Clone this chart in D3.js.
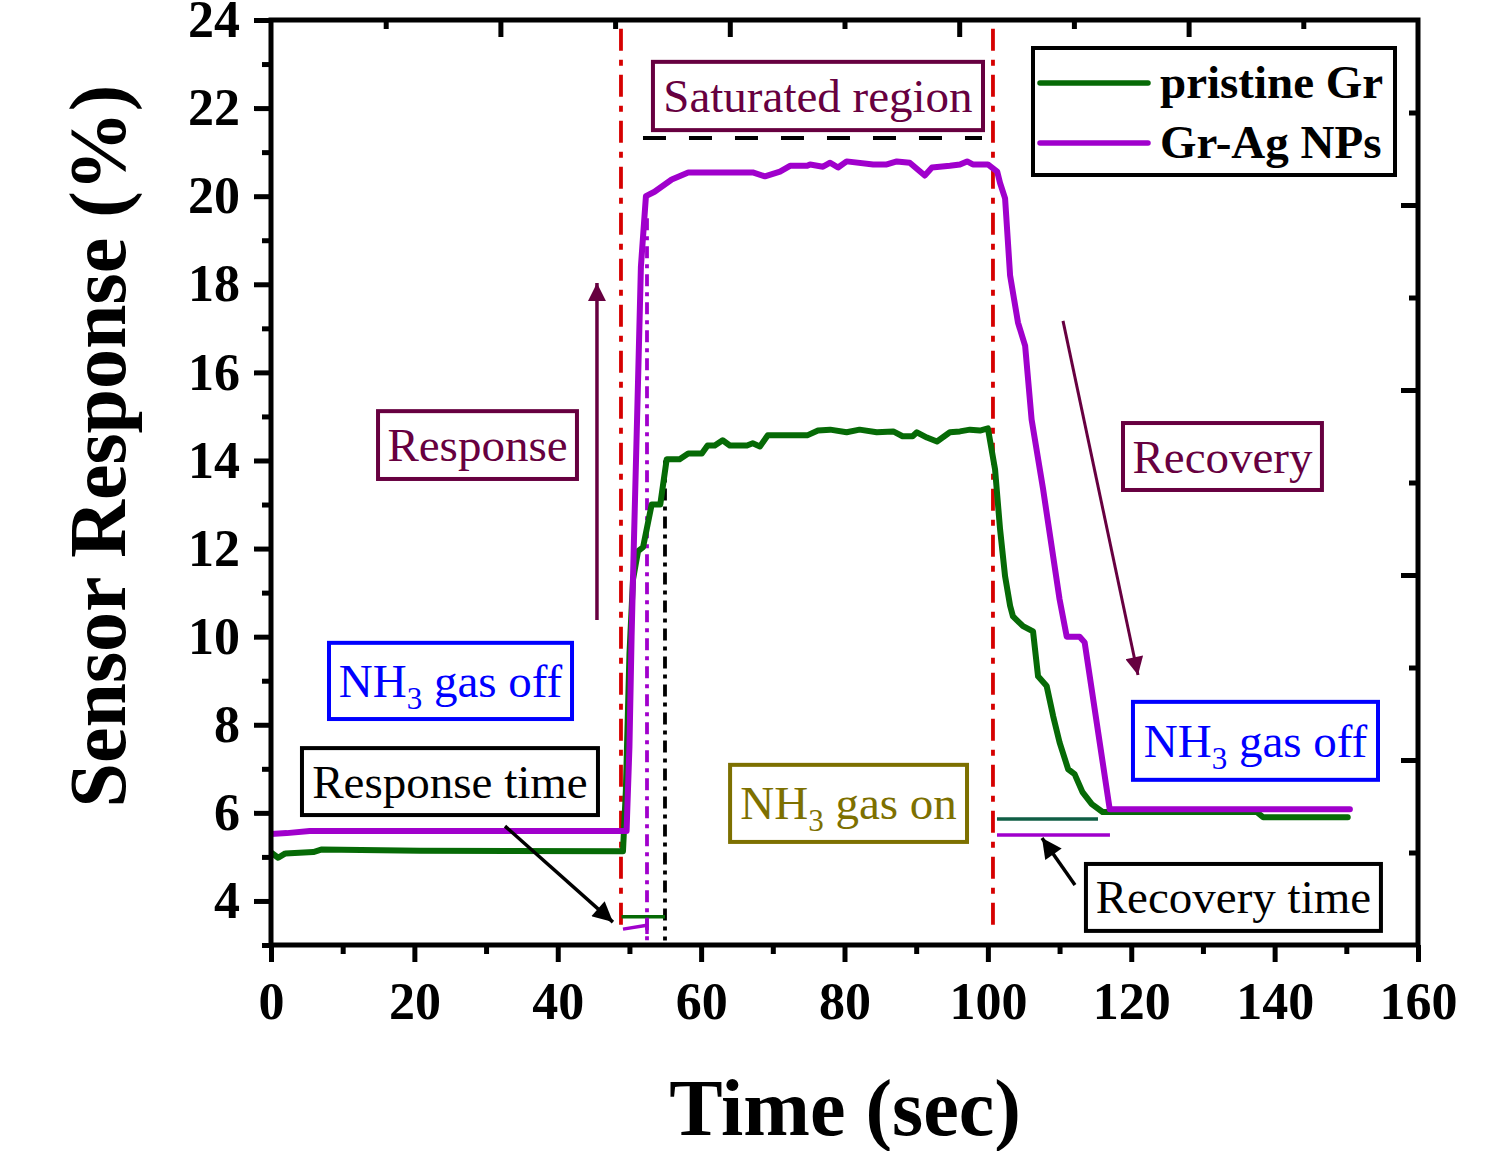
<!DOCTYPE html>
<html>
<head>
<meta charset="utf-8">
<script src="https://cdn.jsdelivr.net/npm/d3@7"></script>
<style>
  body { margin: 0; background: #fff; }
  text { font-family: "Liberation Serif", "Times New Roman", serif; }
</style>
</head>
<body>
<script>
// data (time in sec, response in %)
var grTime = [0, 1.0, 2.0, 5.9, 7.1, 20.8, 49.1, 49.5, 50.0, 50.5, 51.2, 51.9, 53.1, 54.3, 55.2, 57.0,
  58.2, 60.1, 60.9, 61.9, 63.0, 64.0, 66.4, 67.2, 68.2, 69.3, 74.8, 76.3, 78.0, 80.3, 82.1, 84.5,
  86.8, 88.1, 89.5, 90.1, 91.5, 92.9, 94.7, 96.1, 97.5, 98.9, 100.0, 101.0, 101.7, 102.4, 103.1,
  103.5, 104.9, 106.3, 107.0, 108.2, 109.1, 110.0, 111.2, 112.1, 113.2, 114.5, 116.0, 137.5, 138.4, 150.2];
var grResp = [5.10, 4.98, 5.08, 5.11, 5.17, 5.14, 5.13, 6.5, 9.6, 11.3, 11.94, 12.03, 13.0, 13.0, 14.03, 14.03,
  14.16, 14.16, 14.34, 14.34, 14.46, 14.34, 14.34, 14.39, 14.32, 14.57, 14.57, 14.68, 14.70, 14.64, 14.70, 14.64,
  14.66, 14.55, 14.55, 14.64, 14.52, 14.43, 14.64, 14.66, 14.70, 14.68, 14.73, 13.8, 12.44, 11.37, 10.7,
  10.46, 10.24, 10.12, 9.1, 8.88, 8.2, 7.6, 6.99, 6.88, 6.47, 6.2, 6.02, 6.02, 5.9, 5.9];

var agTime = [0, 2.2, 5.4, 49.6, 50.0, 50.3, 50.6, 51.2, 51.6, 52.3, 53.5, 55.9, 58.2, 67.2, 68.9, 71.0,
  72.4, 74.8, 75.2, 77.0, 78.0, 79.1, 80.3, 84.0, 85.9, 87.3, 89.1, 91.2, 92.2, 94.7, 96.1, 97.1,
  97.9, 100.0, 101.3, 101.7, 102.4, 103.1, 104.2, 105.2, 106.1, 107.7, 110.0, 111.0, 112.8, 113.5, 117.0, 150.5];
var agResp = [5.52, 5.54, 5.59, 5.59, 7.5, 10.0, 12.0, 15.8, 18.4, 20.0, 20.1, 20.38, 20.54, 20.54, 20.45, 20.56,
  20.69, 20.69, 20.72, 20.67, 20.76, 20.65, 20.79, 20.72, 20.72, 20.79, 20.76, 20.47, 20.65, 20.69, 20.72, 20.79,
  20.72, 20.72, 20.56, 20.3, 19.95, 18.2, 17.13, 16.6, 14.93, 13.35, 10.85, 10.0, 10.0, 9.87, 6.08, 6.08];

var seriesNames = ["pristine Gr", "Gr-Ag NPs"];
var xTicks = [0, 20, 40, 60, 80, 100, 120, 140, 160];
var xMinor = [10, 30, 50, 70, 90, 110, 130, 150];
var yTicks = [4, 6, 8, 10, 12, 14, 16, 18, 20, 22, 24];
var yMinor = [3, 5, 7, 9, 11, 13, 15, 17, 19, 21, 23];

var W = 1494, H = 1151;
var green = "#066a06", purple = "#a000cc", red = "#d60000", maroon = "#670040";

var x = d3.scaleLinear().domain([0, 160]).range([271, 1418]);
var y = d3.scaleLinear().domain([3, 24]).range([945, 20]);
// opposite axes in the original have their own 5-step ticks
var xTop = d3.scaleLinear().domain([0, 5]).range([271, 1418]);
var yRight = d3.scaleLinear().domain([0, 5]).range([945, 20]);

var svg = d3.select("body").append("svg")
  .attr("width", W)
  .attr("height", H);

var line = d3.line()
  .x(function(d) { return x(d[0]); })
  .y(function(d) { return y(d[1]); });

svg.append("clipPath").attr("id", "plot")
  .append("rect").attr("x", 271).attr("y", 20).attr("width", 1147).attr("height", 925);

// ---- guide lines ----
var guides = svg.append("g");
[48.82, 100.71].forEach(function(t) {
  guides.append("line")
    .attr("x1", x(t)).attr("x2", x(t))
    .attr("y1", y(23.8)).attr("y2", y(3.27))
    .attr("stroke", red).attr("stroke-width", 3.8)
    .attr("stroke-dasharray", "22,9,6,9");
});
guides.append("line")
  .attr("x1", x(52.45)).attr("x2", x(52.45))
  .attr("y1", y(19.5)).attr("y2", y(3.05))
  .attr("stroke", purple).attr("stroke-width", 3.8)
  .attr("stroke-dasharray", "12,6,4,6");
guides.append("line")
  .attr("x1", x(54.96)).attr("x2", x(54.96))
  .attr("y1", y(14.0)).attr("y2", y(3.1))
  .attr("stroke", "#000").attr("stroke-width", 3.8)
  .attr("stroke-dasharray", "12,6,4,6");
// saturated level dashed line
guides.append("line")
  .attr("x1", x(51.89)).attr("x2", x(99.18))
  .attr("y1", y(21.32)).attr("y2", y(21.32))
  .attr("stroke", "#000").attr("stroke-width", 4)
  .attr("stroke-dasharray", "23,23");

// response / recovery time bars
guides.append("line")
  .attr("x1", x(48.9)).attr("x2", x(54.96))
  .attr("y1", y(3.64)).attr("y2", y(3.64))
  .attr("stroke", green).attr("stroke-width", 3.5);
guides.append("path")
  .attr("d", line([[49.1, 3.36], [52.45, 3.45]]))
  .attr("stroke", purple).attr("stroke-width", 3.5).attr("fill", "none");
guides.append("line")
  .attr("x1", x(52.45)).attr("x2", x(52.45))
  .attr("y1", y(3.62)).attr("y2", y(3.25))
  .attr("stroke", purple).attr("stroke-width", 3.5);
guides.append("line")
  .attr("x1", x(101.27)).attr("x2", x(115.36))
  .attr("y1", y(5.86)).attr("y2", y(5.86))
  .attr("stroke", "#0f5e45").attr("stroke-width", 3.5);
guides.append("line")
  .attr("x1", x(101.27)).attr("x2", x(117.03))
  .attr("y1", y(5.5)).attr("y2", y(5.5))
  .attr("stroke", purple).attr("stroke-width", 3.5);

// ---- data lines ----
var grData = grTime.map(function(t, i) { return [t, grResp[i]]; });
var agData = agTime.map(function(t, i) { return [t, agResp[i]]; });

svg.append("path")
  .datum(grData)
  .attr("d", line)
  .attr("clip-path", "url(#plot)")
  .attr("fill", "none").attr("stroke", green)
  .attr("stroke-width", 6).attr("stroke-linejoin", "round").attr("stroke-linecap", "round");
svg.append("path")
  .datum(agData)
  .attr("d", line)
  .attr("clip-path", "url(#plot)")
  .attr("fill", "none").attr("stroke", purple)
  .attr("stroke-width", 6).attr("stroke-linejoin", "round").attr("stroke-linecap", "round");

// ---- arrows ----
var defs = svg.append("defs");
function marker(id, color, w, l) {
  defs.append("marker")
    .attr("id", id)
    .attr("viewBox", "0 0 10 10")
    .attr("refX", 10).attr("refY", 5)
    .attr("markerUnits", "userSpaceOnUse")
    .attr("markerWidth", l).attr("markerHeight", w)
    .attr("orient", "auto")
    .append("path").attr("d", "M0,0 L10,5 L0,10 Z").attr("fill", color);
}
marker("headM", maroon, 18, 34);
marker("headK", "#000", 20, 34);

var arrows = [
  {from: [45.47, 10.38], to: [45.47, 18.03], color: maroon, w: 3.5, m: "headM"},
  {from: [110.48, 17.17], to: [120.94, 9.13], color: maroon, w: 3, m: "headM"},
  {from: [32.64, 5.70], to: [47.70, 3.52], color: "#000", w: 3.5, m: "headK"},
  {from: [112.15, 4.36], to: [107.55, 5.43], color: "#000", w: 3.5, m: "headK"}
];
svg.append("g").selectAll("line")
  .data(arrows)
  .enter().append("line")
  .attr("x1", function(d) { return x(d.from[0]); })
  .attr("y1", function(d) { return y(d.from[1]); })
  .attr("x2", function(d) { return x(d.to[0]); })
  .attr("y2", function(d) { return y(d.to[1]); })
  .attr("stroke", function(d) { return d.color; })
  .attr("stroke-width", function(d) { return d.w; })
  .attr("marker-end", function(d) { return "url(#" + d.m + ")"; });

// ---- text boxes ----
// box corners in data units: [x0, x1, yTop, yBottom]
var boxes = [
  {box: [53.28, 99.32, 23.05, 21.5], text: ["Saturated region"], color: maroon},
  {box: [14.93, 42.68, 15.12, 13.58], text: ["Response"], color: maroon},
  {box: [118.85, 146.6, 14.85, 13.33], text: ["Recovery"], color: maroon},
  {box: [8.09, 41.99, 9.86, 8.13], text: ["NH", "3", " gas off"], color: "#0000ff"},
  {box: [4.32, 45.61, 7.47, 5.95], text: ["Response time"], color: "#000"},
  {box: [64.04, 97.09, 7.09, 5.34], text: ["NH", "3", " gas on"], color: "#7d7000"},
  {box: [120.24, 154.42, 8.52, 6.75], text: ["NH", "3", " gas off"], color: "#0000ff"},
  {box: [113.68, 154.83, 4.84, 3.32], text: ["Recovery time"], color: "#000"}
];
var bg = svg.append("g").selectAll("g").data(boxes).enter().append("g");
bg.append("rect")
  .attr("x", function(d) { return x(d.box[0]); })
  .attr("y", function(d) { return y(d.box[2]); })
  .attr("width", function(d) { return x(d.box[1]) - x(d.box[0]); })
  .attr("height", function(d) { return y(d.box[3]) - y(d.box[2]); })
  .attr("fill", "#fff")
  .attr("stroke", function(d) { return d.color; })
  .attr("stroke-width", 4);
bg.each(function(d) {
  var cx = (x(d.box[0]) + x(d.box[1])) / 2;
  var cy = (y(d.box[2]) + y(d.box[3])) / 2;
  var t = d3.select(this).append("text")
    .attr("x", cx).attr("y", cy + 16)
    .attr("text-anchor", "middle")
    .attr("font-size", 47)
    .attr("fill", d.color);
  if (d.text.length === 1) {
    t.text(d.text[0]);
  } else {
    t.append("tspan").text(d.text[0]);
    t.append("tspan").attr("dy", 12).attr("font-size", 31).text(d.text[1]);
    t.append("tspan").attr("dy", -12).text(d.text[2]);
  }
});

// ---- axes ----
var axes = svg.append("g").attr("font-weight", "bold");

function styleAxis(g, w) {
  g.select(".domain").remove();
  g.selectAll(".tick line").attr("stroke", "#000").attr("stroke-width", w);
}

var xAx = axes.append("g").attr("transform", "translate(0,945)")
  .call(d3.axisBottom(x).tickValues(xTicks).tickSize(17).tickPadding(20).tickFormat(d3.format("d")));
styleAxis(xAx, 5);
xAx.selectAll("text").attr("font-size", 52).attr("font-family", "Liberation Serif").attr("fill", "#000");
var xAxm = axes.append("g").attr("transform", "translate(0,945)")
  .call(d3.axisBottom(x).tickValues(xMinor).tickSize(9).tickFormat(""));
styleAxis(xAxm, 5);

var yAx = axes.append("g").attr("transform", "translate(271,0)")
  .call(d3.axisLeft(y).tickValues(yTicks).tickSize(17).tickPadding(14).tickFormat(d3.format("d")));
styleAxis(yAx, 5);
yAx.selectAll("text").attr("font-size", 52).attr("font-family", "Liberation Serif").attr("fill", "#000");
var yAxm = axes.append("g").attr("transform", "translate(271,0)")
  .call(d3.axisLeft(y).tickValues(yMinor).tickSize(9).tickFormat(""));
styleAxis(yAxm, 5);

var tAx = axes.append("g").attr("transform", "translate(0,20)")
  .call(d3.axisTop(xTop).tickValues([1, 2, 3, 4]).tickSize(-17).tickFormat(""));
styleAxis(tAx, 5);
var tAxm = axes.append("g").attr("transform", "translate(0,20)")
  .call(d3.axisTop(xTop).tickValues([0.5, 1.5, 2.5, 3.5, 4.5]).tickSize(-9).tickFormat(""));
styleAxis(tAxm, 5);
var rAx = axes.append("g").attr("transform", "translate(1418,0)")
  .call(d3.axisRight(yRight).tickValues([1, 2, 3, 4]).tickSize(-17).tickFormat(""));
styleAxis(rAx, 5);
var rAxm = axes.append("g").attr("transform", "translate(1418,0)")
  .call(d3.axisRight(yRight).tickValues([0.5, 1.5, 2.5, 3.5, 4.5]).tickSize(-9).tickFormat(""));
styleAxis(rAxm, 5);

// frame
svg.append("rect")
  .attr("x", 271).attr("y", 20).attr("width", 1147).attr("height", 925)
  .attr("fill", "none").attr("stroke", "#000").attr("stroke-width", 5);

// axis titles
svg.append("text")
  .attr("x", 845).attr("y", 1135)
  .attr("text-anchor", "middle")
  .attr("font-size", 80).attr("font-weight", "bold")
  .text("Time (sec)");
svg.append("text")
  .attr("transform", "translate(125,446) rotate(-90)")
  .attr("text-anchor", "middle")
  .attr("font-size", 80).attr("font-weight", "bold")
  .text("Sensor Response (%)");

// ---- legend ----
var leg = svg.append("g");
leg.append("rect")
  .attr("x", 1033).attr("y", 48).attr("width", 362).attr("height", 127)
  .attr("fill", "#fff").attr("stroke", "#000").attr("stroke-width", 4);
var legColors = [green, purple];
var li = leg.selectAll("g.item").data(seriesNames).enter().append("g")
  .attr("transform", function(d, i) { return "translate(0," + (83 + i * 60) + ")"; });
li.append("line")
  .attr("x1", 1040).attr("x2", 1148)
  .attr("stroke", function(d, i) { return legColors[i]; })
  .attr("stroke-width", 5.5).attr("stroke-linecap", "round");
li.append("text")
  .attr("x", 1160).attr("y", 15)
  .attr("font-size", 47).attr("font-weight", "bold")
  .text(function(d) { return d; });
</script>
</body>
</html>
